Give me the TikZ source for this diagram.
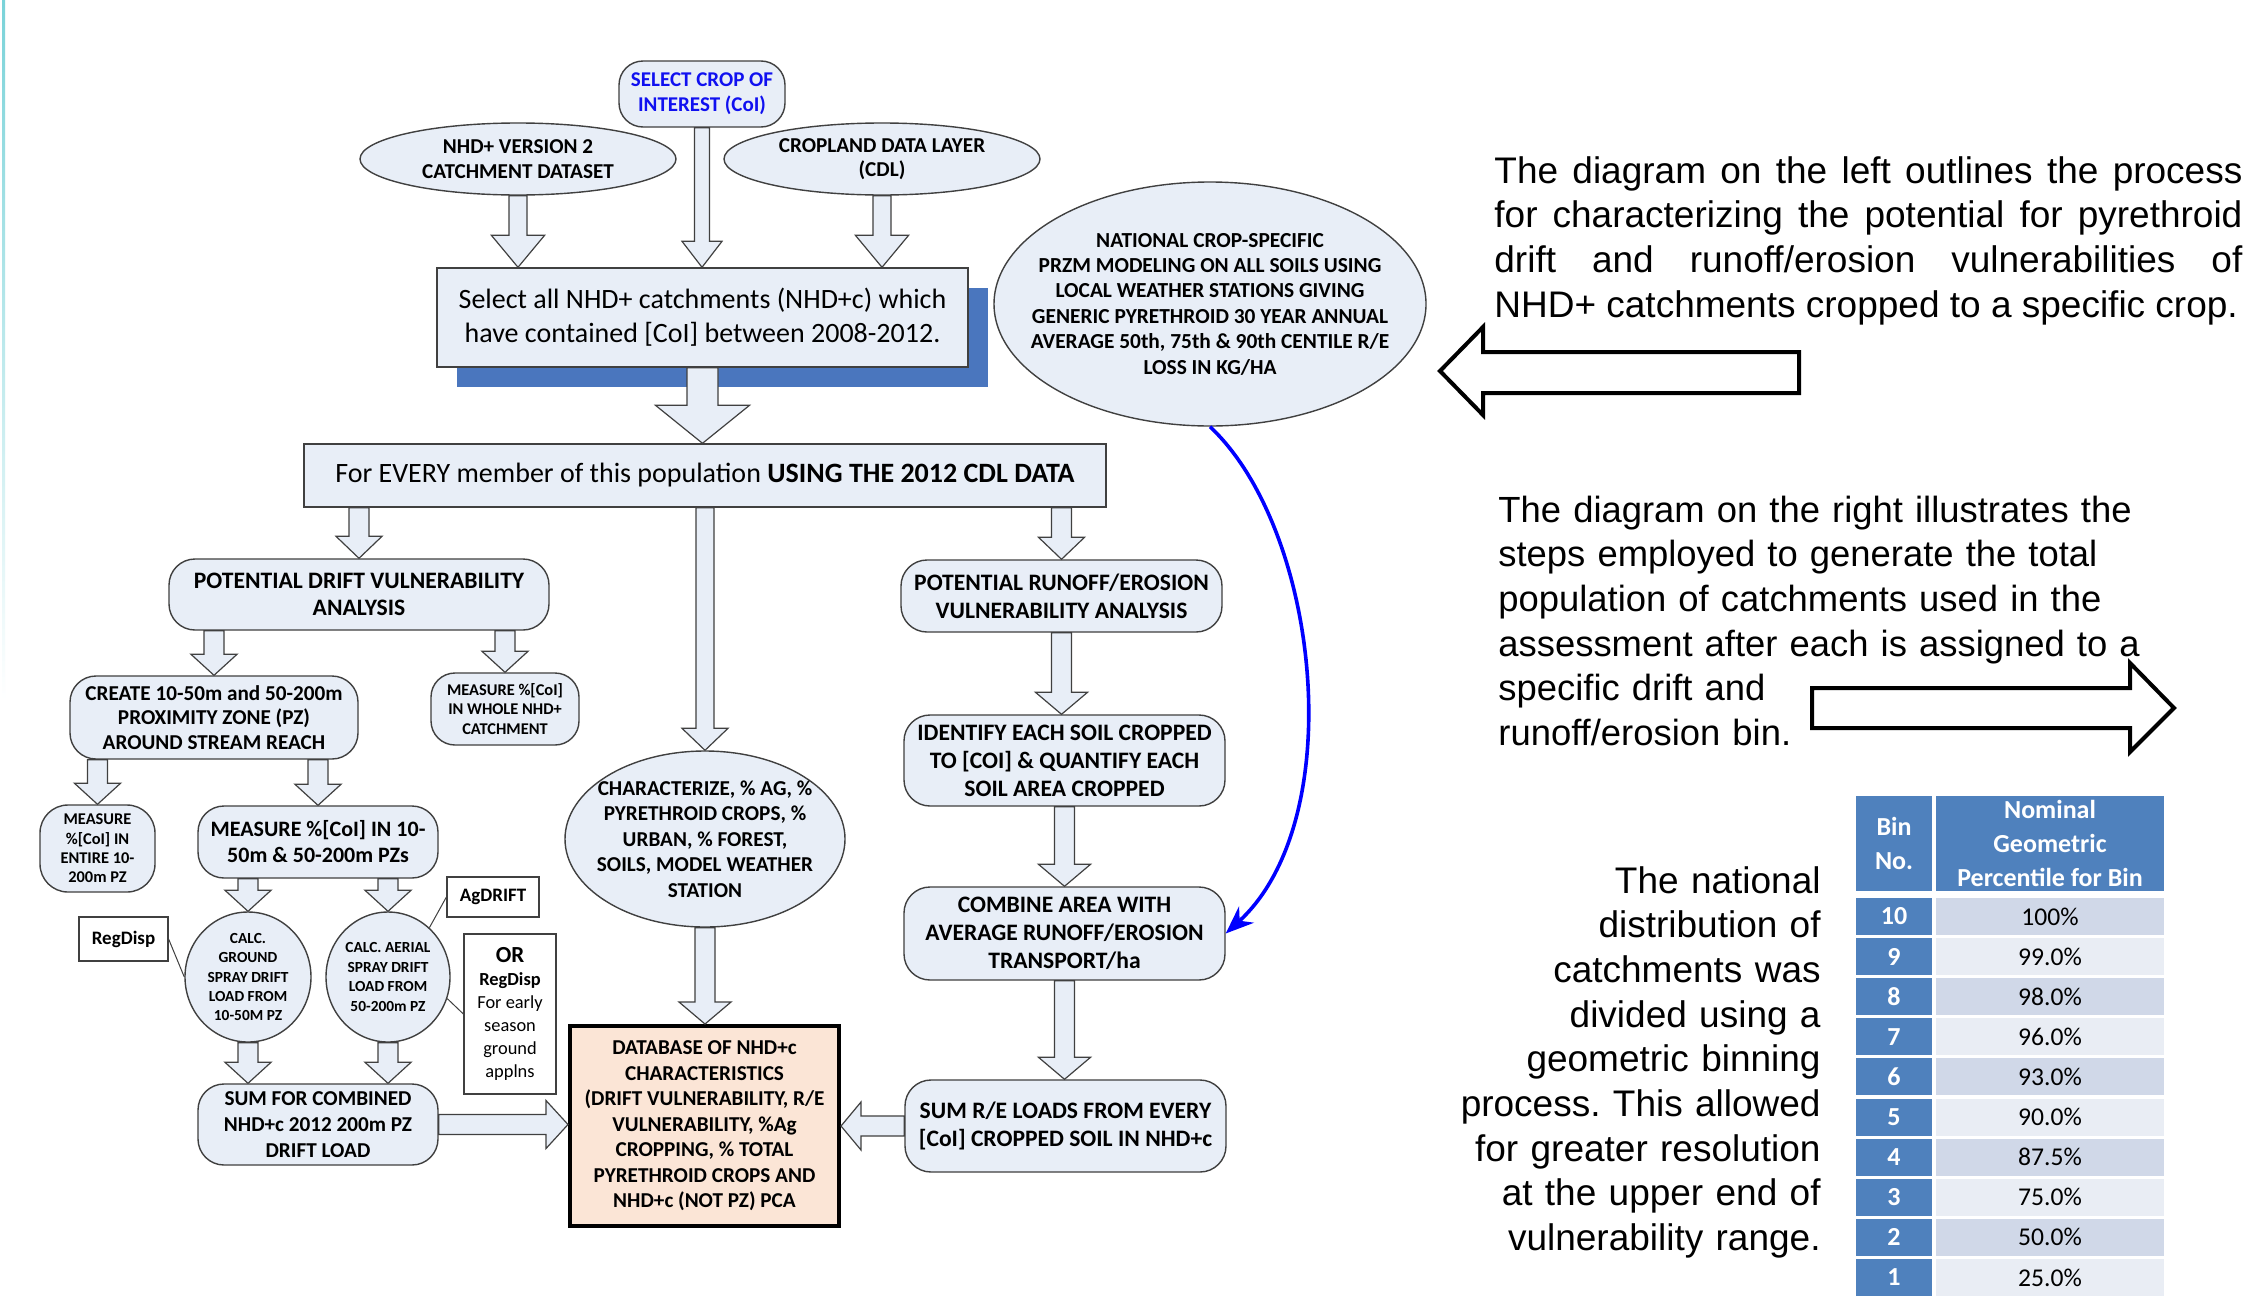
\documentclass[tikz,border=0pt]{standalone}
\usepackage{fontspec}
\setmainfont{Carlito}
\newfontfamily\arialf{Liberation Sans}
\usetikzlibrary{calc,shadows,arrows.meta,shapes.geometric}
\frenchspacing
\definecolor{nfill}{HTML}{E8EEF7}
\definecolor{nline}{HTML}{404040}
\definecolor{shblue}{HTML}{4A76BE}
\definecolor{tblue}{HTML}{4F81BD}
\definecolor{rowd}{HTML}{D0D8E8}
\definecolor{rowl}{HTML}{E9EDF4}
\definecolor{dbfill}{HTML}{FBE5D6}
\definecolor{teal1}{HTML}{7AD3D9}
\definecolor{selblue}{HTML}{1010F0}
\newcommand\fs[2]{\fontsize{#1}{#2}\selectfont}
% block arrows: start, end, shaft half width, head half width, head length
\newcommand\blkdown[5]{%
  \draw[barrow] let \p1=(#1), \p2=(#2) in
  (\x1-#3,\y1) -- (\x1-#3,\y2+#5) -- (\x1-#4,\y2+#5) -- (\x1,\y2) --
  (\x1+#4,\y2+#5) -- (\x1+#3,\y2+#5) -- (\x1+#3,\y1) -- cycle;}
\newcommand\blkright[5]{%
  \draw[barrow] let \p1=(#1), \p2=(#2) in
  (\x1,\y1+#3) -- (\x2-#5,\y1+#3) -- (\x2-#5,\y1+#4) -- (\x2,\y1) --
  (\x2-#5,\y1-#4) -- (\x2-#5,\y1-#3) -- (\x1,\y1-#3) -- cycle;}
\newcommand\blkleft[5]{%
  \draw[barrow] let \p1=(#1), \p2=(#2) in
  (\x1,\y1+#3) -- (\x2+#5,\y1+#3) -- (\x2+#5,\y1+#4) -- (\x2,\y1) --
  (\x2+#5,\y1-#4) -- (\x2+#5,\y1-#3) -- (\x1,\y1-#3) -- cycle;}
\tikzset{
  basebox/.style={draw=nline, line width=0.7pt, fill=nfill, align=center, inner sep=0pt},
  rbox/.style={basebox, rectangle, rounded corners=#1},
  rbox/.default=13pt,
  sbox/.style={basebox, rectangle},
  ell/.style={basebox, ellipse, inner sep=-40pt},
  barrow/.style={draw=nline, line width=0.6pt, fill=nfill, line join=miter},
  note/.style={draw=nline, line width=0.6pt, fill=white, inner sep=0pt, align=center},
  thin/.style={draw=nline, line width=0.5pt},
  para/.style={font=\arialf\fs{18.5}{22.35}\frenchspacing, inner sep=0pt},
  bigarrow/.style={draw=black, line width=2pt, fill=white, line join=miter},
  hcell/.style={fill=tblue, text=white, inner sep=0pt, align=center, font=\bfseries\fs{13}{17}},
  bcell/.style={fill=tblue, text=white, inner sep=0pt, minimum width=38pt, minimum height=18.5pt, font=\bfseries\fs{13}{15}},
  vcell/.style={inner sep=0pt, minimum width=114pt, minimum height=18.5pt, font=\fs{12.8}{15}},
}
\begin{document}
\begin{tikzpicture}[x=0.5pt,y=-0.5pt]
\useasboundingbox (0,0) rectangle (2246,1301);
\fill[white] (0,0) rectangle (2246,1301);
\shade[top color=teal1, bottom color=white] (2,0) rectangle (5,700);

% ---------- top inputs ----------
\node[rbox=12pt, minimum width=83pt, minimum height=33pt, text=selblue, font=\bfseries\fs{10.5}{12.5}] (sel) at (702,94) {SELECT CROP OF\\INTEREST (CoI)};
\node[ell, minimum width=158pt, minimum height=36pt, font=\bfseries\fs{10.6}{12.2}] (nhd) at (518,159) {NHD+ VERSION 2\\CATCHMENT DATASET};
\node[ell, minimum width=158pt, minimum height=36pt, font=\bfseries\fs{10.6}{12.2}] (cdl) at (882,159) {CROPLAND DATA LAYER\\(CDL)};
\node[sbox, minimum width=265.5pt, minimum height=49.5pt, font=\fs{14}{17},
  general shadow={fill=shblue, shadow xshift=10pt, shadow yshift=-10pt}] (selall) at (702.5,317.5)
  {Select all NHD+ catchments (NHD+c) which\\have contained [CoI] between 2008-2012.};
\node[sbox, minimum width=401pt, minimum height=31.5pt, font=\fs{14}{17}] (every) at (705,475.5)
  {For EVERY member of this population \textbf{USING THE 2012 CDL DATA}};
\node[ell, minimum width=216pt, minimum height=122pt, font=\bfseries\fs{10.7}{12.7}] (nat) at (1210,304)
  {NATIONAL CROP-SPECIFIC\\PRZM MODELING ON ALL SOILS USING\\LOCAL WEATHER STATIONS GIVING\\GENERIC PYRETHROID 30 YEAR ANNUAL\\AVERAGE 50th, 75th \& 90th CENTILE R/E\\LOSS IN KG/HA};

% ---------- drift branch ----------
\node[rbox, minimum width=190pt, minimum height=35.5pt, font=\bfseries\fs{11.8}{13.6}] (drift) at (359,594.5) {POTENTIAL DRIFT VULNERABILITY\\ANALYSIS};
\node[rbox, minimum width=144pt, minimum height=41.5pt, font=\bfseries\fs{10.6}{12.2}] (create) at (214,717.5) {CREATE 10-50m and 50-200m\\PROXIMITY ZONE (PZ)\\AROUND STREAM REACH};
\node[rbox=12pt, minimum width=74pt, minimum height=36pt, font=\bfseries\fs{8.2}{9.7}] (whole) at (505,709) {MEASURE \%[CoI]\\IN WHOLE NHD+\\CATCHMENT};
\node[rbox=14pt, minimum width=57.5pt, minimum height=43.5pt, font=\bfseries\fs{8.2}{9.7}] (entire) at (97.5,848.5) {MEASURE\\\%[CoI] IN\\ENTIRE 10-\\200m PZ};
\node[rbox, minimum width=120pt, minimum height=36pt, font=\bfseries\fs{11}{13}] (pzs) at (318,842) {MEASURE \%[CoI] IN 10-\\50m \& 50-200m PZs};
\node[ell, minimum width=63pt, minimum height=65pt, font=\bfseries\fs{7.7}{9.7}] (ground) at (248,977) {CALC.\\GROUND\\SPRAY DRIFT\\LOAD FROM\\10-50M PZ};
\node[ell, minimum width=62pt, minimum height=65pt, font=\bfseries\fs{7.7}{9.7}] (aerial) at (388,977) {CALC. AERIAL\\SPRAY DRIFT\\LOAD FROM\\50-200m PZ};
\node[note, minimum width=44.5pt, minimum height=22pt, font=\bfseries\fs{9.5}{11}] (regdisp) at (123.5,939) {RegDisp};
\node[note, minimum width=46pt, minimum height=20pt, font=\bfseries\fs{9.5}{11}] (agdrift) at (493,897) {AgDRIFT};
\node[note, minimum width=46pt, minimum height=80pt, font=\fs{9.2}{11.5}] (orbox) at (510,1014)
  {{\bfseries\fs{11.5}{11.5}OR}\\\textbf{RegDisp}\\For early\\season\\ground\\applns};
\node[rbox, minimum width=120pt, minimum height=40.5pt, font=\bfseries\fs{10.6}{12.9}] (sumc) at (318,1124.5) {SUM FOR COMBINED\\NHD+c 2012 200m PZ\\DRIFT LOAD};

% ---------- centre ----------
\node[ell, minimum width=140pt, minimum height=88pt, font=\bfseries\fs{10.6}{12.7}] (char) at (705,839)
  {CHARACTERIZE, \% AG, \%\\PYRETHROID CROPS, \%\\URBAN, \% FOREST,\\SOILS, MODEL WEATHER\\STATION};
\node[draw=black, line width=2pt, fill=dbfill, align=center, inner sep=0pt, minimum width=134.5pt, minimum height=100pt, font=\bfseries\fs{10.6}{12.75}] (db) at (704.5,1126)
  {DATABASE OF NHD+c\\CHARACTERISTICS\\(DRIFT VULNERABILITY, R/E\\VULNERABILITY, \%Ag\\CROPPING, \% TOTAL\\PYRETHROID CROPS AND\\NHD+c (NOT PZ) PCA};

% ---------- runoff branch ----------
\node[rbox, minimum width=160.5pt, minimum height=36pt, font=\bfseries\fs{11.8}{14}] (runoff) at (1061.5,596) {POTENTIAL RUNOFF/EROSION\\VULNERABILITY ANALYSIS};
\node[rbox, minimum width=160.5pt, minimum height=45.5pt, font=\bfseries\fs{11.8}{14}] (ident) at (1064.5,760.5) {IDENTIFY EACH SOIL CROPPED\\TO {[COI]} \& QUANTIFY EACH\\SOIL AREA CROPPED};
\node[rbox, minimum width=160.5pt, minimum height=46.5pt, font=\bfseries\fs{11.8}{14}] (comb) at (1064.5,933.5) {COMBINE AREA WITH\\AVERAGE RUNOFF/EROSION\\TRANSPORT/ha};
\node[rbox, minimum width=160.5pt, minimum height=46pt, font=\bfseries\fs{11.8}{14}] (sumre) at (1065.5,1126) {SUM R/E LOADS FROM EVERY\\{[CoI]} CROPPED SOIL IN NHD+c};

% ---------- block arrows ----------
\blkdown{sel.south}{sel.south |- selall.north}{3.75pt}{10pt}{13pt}
\blkdown{nhd.south}{nhd.south |- selall.north}{4.5pt}{13.3pt}{16pt}
\blkdown{cdl.south}{cdl.south |- selall.north}{4.5pt}{13.3pt}{16pt}
\blkdown{selall.south}{every.north}{7.75pt}{23.5pt}{19pt}
\blkdown{drift.north |- every.south}{drift.north}{5pt}{11.5pt}{11pt}
\blkdown{char.north |- every.south}{char.north}{4.5pt}{11.5pt}{11pt}
\blkdown{runoff.north |- every.south}{runoff.north}{5pt}{11.5pt}{11pt}
\blkdown{create.north |- drift.south}{create.north}{5pt}{11.5pt}{10.5pt}
\blkdown{whole.north |- drift.south}{whole.north}{5pt}{11.5pt}{10.5pt}
\blkdown{entire.north |- create.south}{entire.north}{5pt}{11.5pt}{10.5pt}
\blkdown{pzs.north |- create.south}{pzs.north}{5pt}{11.5pt}{10.5pt}
\blkdown{ground.north |- pzs.south}{ground.north}{5pt}{11.5pt}{10.5pt}
\blkdown{aerial.north |- pzs.south}{aerial.north}{5pt}{11.5pt}{10.5pt}
\blkdown{ground.south}{ground.south |- sumc.north}{5pt}{11.5pt}{10.5pt}
\blkdown{aerial.south}{aerial.south |- sumc.north}{5pt}{11.5pt}{10.5pt}
\blkdown{runoff.south}{ident.north}{5pt}{13pt}{11pt}
\blkdown{ident.south}{comb.north}{5pt}{13pt}{11pt}
\blkdown{comb.south}{sumre.north}{5pt}{13pt}{11pt}
\blkdown{char.south}{db.north}{5pt}{13pt}{11pt}
\blkright{sumc.east}{db.west}{5pt}{12pt}{11pt}
\blkleft{sumre.west}{db.east}{5pt}{12pt}{10pt}

% ---------- thin callout lines ----------
\draw[thin] (regdisp.east) -- (ground.west);
\draw[thin] (agdrift.west) -- (aerial.50);
\draw[thin] (orbox.west) -- (aerial.-20);

% ---------- blue curve ----------
\draw[blue, line width=1.8pt, -{Stealth[length=14pt, width=11pt]}] (nat.south) .. controls (1320,530) and (1350,820) .. (comb.east);

% ---------- right side ----------
\node[para, anchor=base west, text width=374pt, align=justify] (t1) at (1494,183)
  {The diagram on the left outlines the process\linebreak for characterizing the potential for pyrethroid\linebreak drift and runoff/erosion vulnerabilities of\linebreak NHD+ catchments cropped to a specific crop.};
\draw[bigarrow] (1440,371) -- (1483,327) -- (1483,352) -- (1799,352) -- (1799,393) -- (1483,393) -- (1483,415) -- cycle;
\node[para, font=\arialf\fs{18.2}{22.35}, anchor=base west, text width=340pt, align=left] (t2) at (1498,522)
  {The diagram on the right illustrates the\\steps employed to generate the total\\population of catchments used in the\\assessment after each is assigned to a\\specific drift and\\runoff/erosion bin.};
\draw[bigarrow] (1812,688) -- (2130,688) -- (2130,663) -- (2174,708) -- (2130,752) -- (2130,728) -- (1812,728) -- cycle;
\node[para, anchor=base east, text width=200pt, align=right] (t3) at (1821,893)
  {The national\\distribution of\\catchments was\\divided using a\\geometric binning\\process. This allowed\\for greater resolution\\at the upper end of\\vulnerability range.};

% ---------- table ----------
\node[hcell, minimum width=38pt, minimum height=47.5pt] (hbin) at (1894,843.5) {Bin\\No.};
\node[hcell, minimum width=114pt, minimum height=47.5pt] (hpct) at (2050,843.5) {Nominal\\Geometric\\Percentile for Bin};
\foreach \b/\v/\c [count=\i from 0] in {10/100\%/rowd, 9/99.0\%/rowl, 8/98.0\%/rowd, 7/96.0\%/rowl, 6/93.0\%/rowd, 5/90.0\%/rowl, 4/87.5\%/rowd, 3/75.0\%/rowl, 2/50.0\%/rowd, 1/25.0\%/rowl}{
  \node[bcell] (bin\b) at (1894,916.5+40.1*\i) {\b};
  \node[vcell, fill=\c] (pct\b) at (2050,916.5+40.1*\i) {\v};
}
\end{tikzpicture}
\end{document}
